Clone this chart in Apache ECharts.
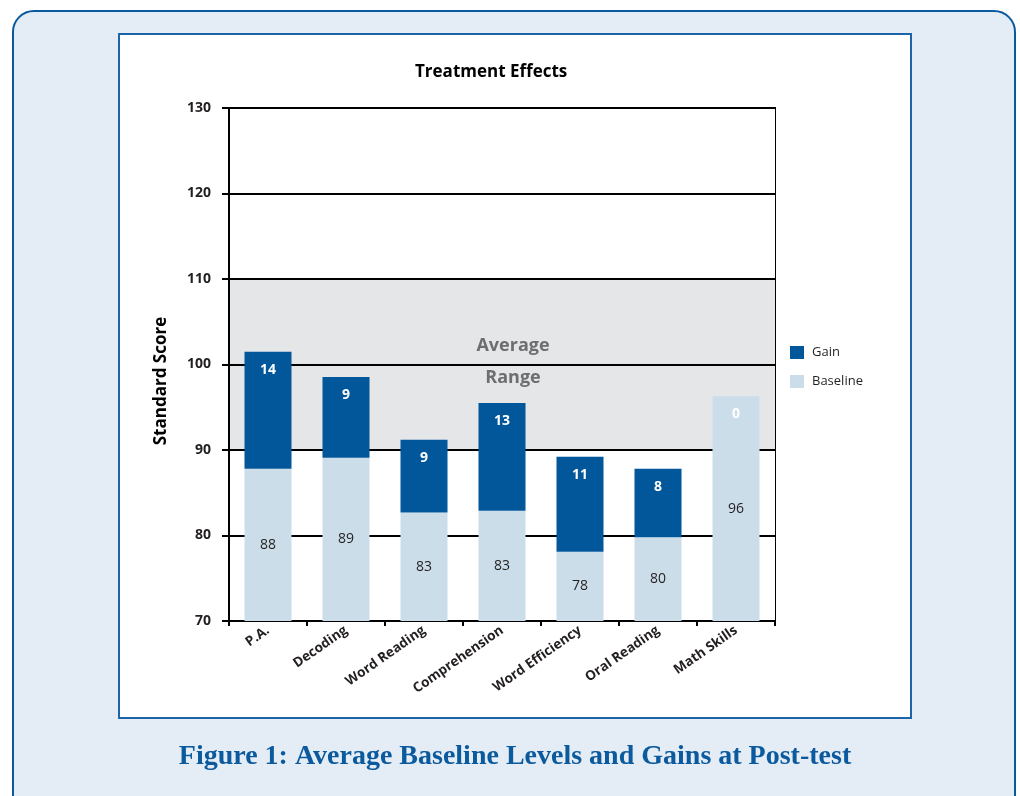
<!DOCTYPE html>
<html>
<head>
<meta charset="utf-8">
<script src="https://cdn.jsdelivr.net/npm/echarts@6/dist/echarts.min.js"></script>
<style>
  html, body { margin: 0; padding: 0; width: 1020px; height: 796px; overflow: hidden; background: #ffffff; }
  #outer { position: absolute; left: 12px; top: 10px; width: 1004px; height: 830px; box-sizing: border-box;
           border: 2.5px solid #0b5a9e; border-radius: 22px; background: #e4ecf5; }
  #inner { position: absolute; left: 118px; top: 33px; width: 794px; height: 686px; box-sizing: border-box;
           border: 2.5px solid #1f63a8; background: #ffffff; }
  #chart { position: absolute; left: 0; top: 0; width: 1020px; height: 796px; }
</style>
</head>
<body>
<div id="outer"></div>
<div id="inner"></div>
<div id="chart"></div>
<script>
const categories = ['P.A.', 'Decoding', 'Word Reading', 'Comprehension', 'Word Efficiency', 'Oral Reading', 'Math Skills'];
const baseline = [87.8, 89.1, 82.7, 82.9, 78.1, 79.8, 96.3];
const gain = [13.7, 9.45, 8.5, 12.6, 11.1, 8.0, 0];
const yMin = 70, yMax = 130, yStep = 10;
const averageRange = [90, 110];
const seriesNames = ['Gain', 'Baseline'];
const titleText = 'Treatment Effects';
const yAxisTitle = 'Standard Score';
const bandLabel = ['Average', 'Range'];
const caption = 'Figure 1: Average Baseline Levels and Gains at Post-test';

const FONT = '"Open Sans", "Noto Sans", sans-serif';
const INK = '#231f20';

// colours for each y interval: grey inside the average range
const bandColors = [];
for (let v = yMin; v < yMax; v += yStep) {
  bandColors.push(v >= averageRange[0] && v + yStep <= averageRange[1] ? '#e5e6e8' : '#ffffff');
}

const chart = echarts.init(document.getElementById('chart'), null, { renderer: 'canvas' });
chart.setOption({
  backgroundColor: 'transparent',
  animation: false,
  title: {
    text: titleText, left: 415, top: 64, padding: 0,
    textStyle: { fontFamily: FONT, fontWeight: 'bold', fontSize: 17, color: '#000' }
  },
  legend: {
    data: seriesNames, orient: 'vertical', left: 785, top: 341,
    itemWidth: 14, itemHeight: 13, itemGap: 16, icon: 'rect',
    textStyle: { fontFamily: FONT, fontSize: 13, color: INK, padding: [0, 0, 0, 3] }
  },
  grid: {
    left: 229, top: 108, width: 546, height: 513,
    show: true, borderColor: '#000', borderWidth: 2, backgroundColor: 'transparent'
  },
  xAxis: {
    type: 'category', data: categories,
    axisLine: { lineStyle: { color: '#000', width: 2 } },
    axisTick: { show: true, length: 5, interval: 0, lineStyle: { color: '#000', width: 2 } },
    axisLabel: { interval: 0, rotate: 35, margin: 8, fontFamily: FONT, fontWeight: 'bold', fontSize: 13.5, color: INK },
    splitLine: { show: false }
  },
  yAxis: {
    type: 'value', min: yMin, max: yMax, interval: yStep,
    axisLine: { show: true, lineStyle: { color: '#000', width: 2 } },
    axisTick: { show: true, length: 7, lineStyle: { color: '#000', width: 2 } },
    axisLabel: { margin: 18, fontFamily: FONT, fontWeight: 'bold', fontSize: 14, color: INK },
    splitLine: { show: true, lineStyle: { color: '#000', width: 1.8 } },
    splitArea: { show: true, areaStyle: { color: bandColors } }
  },
  series: [
    {
      name: 'Baseline', type: 'bar', stack: 'score', barWidth: 47, data: baseline,
      itemStyle: { color: '#cbdde9' },
      label: { show: true, position: 'inside', formatter: p => Math.round(p.value),
               fontFamily: FONT, fontSize: 14, color: INK }
    },
    {
      name: 'Gain', type: 'bar', stack: 'score', barWidth: 47, data: gain,
      itemStyle: { color: '#02569a' },
      label: { show: true, position: 'insideTop', distance: 11, formatter: p => Math.round(p.value),
               fontFamily: FONT, fontWeight: 'bold', fontSize: 14, color: '#ffffff' }
    }
  ],
  graphic: [
    { type: 'text', x: 161, y: 381, rotation: Math.PI / 2, z: 100,
      style: { text: yAxisTitle, fontFamily: FONT, fontWeight: 'bold', fontSize: 17, fill: '#000',
               textAlign: 'center', textVerticalAlign: 'middle' } },
    { type: 'text', x: 513, y: 346, z: 100,
      style: { text: bandLabel[0], fontFamily: FONT, fontWeight: 'bold', fontSize: 18, fill: '#6d6e71',
               textAlign: 'center', textVerticalAlign: 'middle' } },
    { type: 'text', x: 513, y: 378, z: 100,
      style: { text: bandLabel[1], fontFamily: FONT, fontWeight: 'bold', fontSize: 18, fill: '#6d6e71',
               textAlign: 'center', textVerticalAlign: 'middle' } },
    { type: 'text', x: 515, y: 757, z: 100,
      style: { text: caption, fontFamily: '"Liberation Serif", "DejaVu Serif", serif', fontWeight: 'bold',
               fontSize: 28, fill: '#0b5a9e', textAlign: 'center', textVerticalAlign: 'middle' } }
  ]
});
</script>
</body>
</html>
